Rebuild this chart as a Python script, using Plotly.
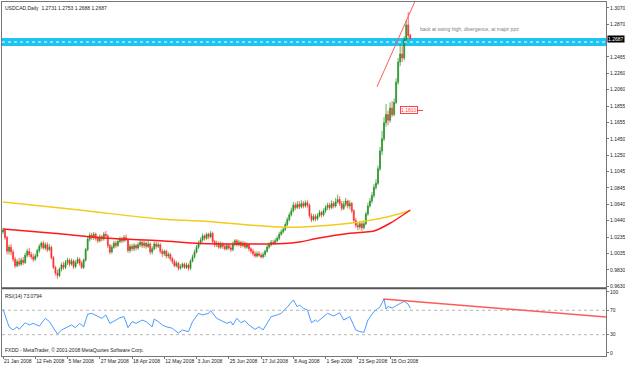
import plotly.graph_objects as go

# ---------------- data ----------------
open_ = [
1.0300,1.0320,1.0230,1.0060,1.0110,1.0050,0.9960,0.9880,0.9930,0.9900,
0.9950,0.9920,1.0010,1.0060,1.0020,0.9990,0.9960,1.0000,1.0070,1.0120,
1.0160,1.0100,1.0140,1.0080,1.0110,0.9980,0.9860,0.9790,0.9760,0.9840,
0.9890,0.9860,0.9920,0.9950,0.9900,0.9940,0.9870,0.9920,0.9960,0.9910,
0.9860,0.9950,1.0080,1.0210,1.0260,1.0230,1.0270,1.0220,1.0190,1.0240,
1.0210,1.0270,1.0250,1.0130,1.0050,1.0110,1.0160,1.0130,1.0180,1.0210,
1.0190,1.0230,1.0200,1.0070,1.0120,1.0090,1.0130,1.0100,1.0140,1.0170,
1.0130,1.0160,1.0120,1.0150,1.0050,1.0090,1.0150,1.0120,1.0140,1.0060,
1.0030,1.0060,1.0000,1.0020,0.9970,0.9930,0.9880,0.9910,0.9850,0.9870,
0.9900,0.9860,0.9890,0.9850,0.9940,0.9990,1.0050,1.0110,1.0160,1.0200,
1.0250,1.0220,1.0270,1.0240,1.0280,1.0180,1.0140,1.0160,1.0110,1.0150,
1.0120,1.0090,1.0130,1.0100,1.0080,1.0150,1.0190,1.0140,1.0170,1.0130,
1.0160,1.0110,1.0140,1.0090,1.0060,1.0030,1.0000,1.0030,1.0010,0.9990,
1.0020,1.0060,1.0110,1.0140,1.0170,1.0160,1.0190,1.0220,1.0270,1.0300,
1.0330,1.0390,1.0450,1.0510,1.0560,1.0630,1.0600,1.0640,1.0610,1.0650,
1.0620,1.0660,1.0630,1.0500,1.0450,1.0490,1.0460,1.0500,1.0540,1.0510,
1.0560,1.0600,1.0630,1.0600,1.0650,1.0620,1.0670,1.0700,1.0650,1.0590,
1.0640,1.0680,1.0620,1.0650,1.0560,1.0440,1.0380,1.0360,1.0400,1.0350,
1.0400,1.0520,1.0620,1.0680,1.0750,1.0850,1.0900,1.1080,1.1300,1.1450,
1.1650,1.1750,1.1680,1.1830,1.1750,1.1900,1.2150,1.2400,1.2500,1.2450,
1.2680,1.2860,1.2731]

high = [
1.0350,1.0340,1.0250,1.0140,1.0150,1.0080,0.9990,0.9960,0.9980,0.9980,
0.9990,1.0040,1.0090,1.0100,1.0050,1.0030,1.0030,1.0090,1.0150,1.0180,
1.0190,1.0170,1.0170,1.0150,1.0130,1.0000,0.9880,0.9830,0.9860,0.9920,
0.9930,0.9950,0.9980,0.9970,0.9970,0.9960,0.9950,0.9990,0.9980,0.9940,
0.9970,1.0100,1.0240,1.0290,1.0290,1.0300,1.0290,1.0250,1.0270,1.0260,
1.0300,1.0310,1.0270,1.0150,1.0140,1.0190,1.0190,1.0210,1.0240,1.0240,
1.0260,1.0270,1.0220,1.0150,1.0150,1.0160,1.0150,1.0170,1.0200,1.0200,
1.0190,1.0180,1.0190,1.0170,1.0120,1.0180,1.0180,1.0170,1.0160,1.0090,
1.0080,1.0080,1.0050,1.0040,0.9990,0.9960,0.9940,0.9930,0.9900,0.9920,
0.9920,0.9920,0.9910,0.9960,1.0020,1.0080,1.0140,1.0190,1.0230,1.0280,
1.0270,1.0290,1.0290,1.0310,1.0300,1.0200,1.0190,1.0180,1.0180,1.0170,
1.0150,1.0160,1.0150,1.0130,1.0180,1.0210,1.0210,1.0200,1.0190,1.0190,
1.0180,1.0170,1.0160,1.0110,1.0090,1.0060,1.0060,1.0060,1.0040,1.0050,
1.0080,1.0140,1.0170,1.0200,1.0200,1.0220,1.0250,1.0300,1.0330,1.0360,
1.0420,1.0480,1.0540,1.0600,1.0670,1.0660,1.0680,1.0680,1.0690,1.0680,
1.0690,1.0690,1.0650,1.0530,1.0520,1.0520,1.0530,1.0570,1.0560,1.0590,
1.0630,1.0660,1.0660,1.0690,1.0680,1.0720,1.0760,1.0740,1.0680,1.0680,
1.0720,1.0700,1.0690,1.0670,1.0580,1.0470,1.0420,1.0430,1.0420,1.0440,
1.0550,1.0660,1.0720,1.0790,1.0890,1.0950,1.1120,1.1350,1.1550,1.1720,
1.1880,1.1800,1.1900,1.1920,1.1950,1.2200,1.2450,1.2620,1.2600,1.2720,
1.2920,1.3020,1.2753]

low = [
1.0270,1.0200,1.0020,1.0020,1.0010,0.9930,0.9850,0.9860,0.9870,0.9880,
0.9890,0.9900,0.9980,0.9990,0.9960,0.9930,0.9940,0.9980,1.0040,1.0090,
1.0080,1.0070,1.0050,1.0060,0.9960,0.9840,0.9760,0.9720,0.9740,0.9810,
0.9830,0.9840,0.9890,0.9870,0.9880,0.9840,0.9850,0.9900,0.9880,0.9840,
0.9840,0.9930,1.0060,1.0180,1.0200,1.0200,1.0190,1.0160,1.0170,1.0180,
1.0190,1.0220,1.0100,1.0020,1.0030,1.0090,1.0100,1.0110,1.0160,1.0160,
1.0170,1.0180,1.0040,1.0040,1.0060,1.0060,1.0070,1.0080,1.0110,1.0100,
1.0100,1.0090,1.0100,1.0020,1.0020,1.0070,1.0090,1.0100,1.0030,0.9990,
1.0000,0.9970,0.9970,0.9940,0.9900,0.9860,0.9860,0.9820,0.9830,0.9850,
0.9840,0.9840,0.9820,0.9830,0.9920,0.9970,1.0030,1.0090,1.0140,1.0170,
1.0190,1.0200,1.0210,1.0220,1.0150,1.0110,1.0110,1.0090,1.0090,1.0090,
1.0070,1.0070,1.0080,1.0050,1.0060,1.0120,1.0120,1.0120,1.0100,1.0110,
1.0090,1.0090,1.0060,1.0030,1.0000,0.9980,0.9980,0.9990,0.9970,0.9970,
0.9990,1.0040,1.0090,1.0120,1.0140,1.0140,1.0170,1.0200,1.0250,1.0280,
1.0310,1.0370,1.0430,1.0490,1.0540,1.0570,1.0580,1.0580,1.0590,1.0590,
1.0600,1.0600,1.0470,1.0420,1.0430,1.0430,1.0440,1.0480,1.0480,1.0490,
1.0530,1.0570,1.0570,1.0580,1.0590,1.0600,1.0650,1.0620,1.0560,1.0570,
1.0610,1.0590,1.0580,1.0530,1.0410,1.0350,1.0320,1.0330,1.0310,1.0330,
1.0380,1.0500,1.0600,1.0650,1.0720,1.0820,1.0880,1.1050,1.1250,1.1420,
1.1600,1.1620,1.1650,1.1720,1.1730,1.1880,1.2120,1.2350,1.2400,1.2420,
1.2650,1.2700,1.2688]

close = [
1.0320,1.0230,1.0060,1.0110,1.0050,0.9960,0.9880,0.9930,0.9900,0.9950,
0.9920,1.0010,1.0060,1.0020,0.9990,0.9960,1.0000,1.0070,1.0120,1.0160,
1.0100,1.0140,1.0080,1.0110,0.9980,0.9860,0.9790,0.9760,0.9840,0.9890,
0.9860,0.9920,0.9950,0.9900,0.9940,0.9870,0.9920,0.9960,0.9910,0.9860,
0.9950,1.0080,1.0210,1.0260,1.0230,1.0270,1.0220,1.0190,1.0240,1.0210,
1.0270,1.0250,1.0130,1.0050,1.0110,1.0160,1.0130,1.0180,1.0210,1.0190,
1.0230,1.0200,1.0070,1.0120,1.0090,1.0130,1.0100,1.0140,1.0170,1.0130,
1.0160,1.0120,1.0150,1.0050,1.0090,1.0150,1.0120,1.0140,1.0060,1.0030,
1.0060,1.0000,1.0020,0.9970,0.9930,0.9880,0.9910,0.9850,0.9870,0.9900,
0.9860,0.9890,0.9850,0.9940,0.9990,1.0050,1.0110,1.0160,1.0200,1.0250,
1.0220,1.0270,1.0240,1.0280,1.0180,1.0140,1.0160,1.0110,1.0150,1.0120,
1.0090,1.0130,1.0100,1.0080,1.0150,1.0190,1.0140,1.0170,1.0130,1.0160,
1.0110,1.0140,1.0090,1.0060,1.0030,1.0000,1.0030,1.0010,0.9990,1.0020,
1.0060,1.0110,1.0140,1.0170,1.0160,1.0190,1.0220,1.0270,1.0300,1.0330,
1.0390,1.0450,1.0510,1.0560,1.0630,1.0600,1.0640,1.0610,1.0650,1.0620,
1.0660,1.0630,1.0500,1.0450,1.0490,1.0460,1.0500,1.0540,1.0510,1.0560,
1.0600,1.0630,1.0600,1.0650,1.0620,1.0670,1.0700,1.0650,1.0590,1.0640,
1.0680,1.0620,1.0650,1.0560,1.0440,1.0380,1.0360,1.0400,1.0350,1.0400,
1.0520,1.0620,1.0680,1.0750,1.0850,1.0900,1.1080,1.1300,1.1450,1.1650,
1.1750,1.1680,1.1830,1.1750,1.1900,1.2150,1.2400,1.2500,1.2450,1.2680,
1.2860,1.2730,1.2687]

bar_index = list(range(len(close)))

# moving averages read at a few bars (index, price)
ma_yellow_idx = [0, 38, 78, 98, 122, 139, 156, 172, 185, 193, 202]
ma_yellow_val = [1.0669, 1.0570, 1.0459, 1.0434, 1.0385, 1.0356, 1.0372, 1.0406, 1.0455, 1.0500, 1.0560]
ma_red_idx = [0, 25, 52, 78, 98, 122, 139, 147, 156, 172, 180, 184, 192, 202]
ma_red_val = [1.0335, 1.0282, 1.0220, 1.0190, 1.0156, 1.0150, 1.0155, 1.0174, 1.0220, 1.0282, 1.0298, 1.0310, 1.0406, 1.0570]

# RSI(14) (index, value)
rsi_idx = [0, 2, 3, 5, 7, 8, 11, 13, 15, 18, 21, 23, 26, 27, 29, 32, 34, 36, 38, 40,
           42, 44, 47, 49, 51, 53, 56, 58, 60, 62, 64, 66, 69, 71, 74, 75, 77, 79, 81, 84,
           87, 89, 92, 94, 97, 99, 102, 103, 106, 108, 111, 113, 114, 116, 118, 120, 122, 125, 127, 129,
           131, 133, 136, 138, 141, 144, 146, 147, 149, 151, 153, 155, 156, 159, 161, 164, 167, 169, 172, 175,
           177, 179, 181, 184, 187, 189, 190, 191, 193, 195, 198, 199, 200, 201, 202]
rsi_val = [71.6, 50, 43, 37.7, 43, 38.7, 49.7, 45.9, 48.6, 44, 56.8, 51.4, 35, 31, 37.7, 43, 45.9, 41.5, 48.6, 43,
           63.4, 65, 59.6, 56.8, 62.3, 48.6, 54, 57.9, 59.6, 41.5, 51.4, 48.6, 54, 51.4, 43, 55.7, 51.4, 45.9, 43, 40.5,
           32.4, 37.7, 35, 51.4, 65, 62.3, 65, 69.4, 56.8, 54, 48.6, 51.4, 45.9, 56.8, 49.7, 53, 45.9, 38.7, 43, 37.7,
           48.6, 59.6, 62.3, 65, 75.4, 86.9, 75.4, 78.7, 73.2, 70.5, 49.7, 54, 51.4, 59.6, 65, 60.7, 66, 54, 59.6, 37.7,
           35, 33.9, 54, 67.8, 75.4, 88.5, 72, 76.3, 73.5, 77.6, 83, 84.7, 82, 80, 73.1]

# trend lines drawn on the chart (index, value)
price_trend_idx = [185.5, 204.5]
price_trend_val = [1.2095, 1.3160]
rsi_trend_idx = [188.6, 300]
rsi_trend_val = [88.5, 58.8]

date_ticks_idx = [0, 16, 32, 48, 64, 80, 96, 112, 128, 144, 160, 176, 192]
date_ticks_text = ["21 Jan 2008", "12 Feb 2008", "5 Mar 2008", "27 Mar 2008", "18 Apr 2008",
                   "12 May 2008", "3 Jun 2008", "25 Jun 2008", "17 Jul 2008", "8 Aug 2008",
                   "1 Sep 2008", "23 Sep 2008", "15 Oct 2008"]
price_ticks = [1.3070, 1.2870, 1.2465, 1.2260, 1.2060, 1.1855, 1.1655, 1.1450, 1.1250,
               1.1045, 1.0845, 1.0640, 1.0440, 1.0235, 1.0035, 0.9830, 0.9630]
rsi_ticks = [0, 30, 70, 100]

zone_low, zone_high, zone_mid = 1.2599, 1.2698, 1.2648
last_price = 1.2687
label_price = 1.1801

assert len(open_) == len(high) == len(low) == len(close) == 203

# ---------------- figure ----------------
FONT = "Liberation Sans"
AX = "#777777"
fig = go.Figure()

fig.add_trace(go.Candlestick(
    x=bar_index, open=open_, high=high, low=low, close=close,
    xaxis="x2", yaxis="y",
    increasing=dict(line=dict(color="#1f8f1f", width=0.7), fillcolor="#1f8f1f"),
    decreasing=dict(line=dict(color="#ff2a2a", width=0.7), fillcolor="#ff2a2a"),
    whiskerwidth=0, hoverinfo="skip"))

fig.add_trace(go.Scatter(x=ma_yellow_idx, y=ma_yellow_val, mode="lines", xaxis="x2", yaxis="y",
                         line=dict(color="#f2cc1a", width=1.5, shape="spline"), hoverinfo="skip"))
fig.add_trace(go.Scatter(x=ma_red_idx, y=ma_red_val, mode="lines", xaxis="x2", yaxis="y",
                         line=dict(color="#ff1a1a", width=1.5, shape="spline"), hoverinfo="skip"))
fig.add_trace(go.Scatter(x=price_trend_idx, y=price_trend_val, mode="lines", xaxis="x2", yaxis="y",
                         line=dict(color="#ff5a5a", width=1), hoverinfo="skip"))

fig.add_trace(go.Scatter(x=rsi_idx, y=rsi_val, mode="lines", xaxis="x", yaxis="y2",
                         line=dict(color="#4a9cff", width=1), hoverinfo="skip"))
fig.add_trace(go.Scatter(x=rsi_trend_idx, y=rsi_trend_val, mode="lines", xaxis="x", yaxis="y2",
                         line=dict(color="#ff5a5a", width=1.5), hoverinfo="skip"))

shapes = [
    dict(type="rect", xref="paper", yref="y", x0=0, x1=1, y0=zone_low, y1=zone_high,
         fillcolor="#1ec3f2", line=dict(width=0), layer="below"),
    dict(type="line", xref="paper", yref="y", x0=0, x1=1, y0=zone_mid, y1=zone_mid,
         line=dict(color="white", width=1, dash="dot")),
    dict(type="line", xref="paper", yref="y2", x0=0, x1=1, y0=70, y1=70,
         line=dict(color="#b5b5b5", width=1, dash="dot"), layer="below"),
    dict(type="line", xref="paper", yref="y2", x0=0, x1=1, y0=30, y1=30,
         line=dict(color="#b5b5b5", width=1, dash="dot"), layer="below"),
    dict(type="line", xref="x2", yref="y", x0=205, x1=208.3, y0=label_price, y1=label_price,
         line=dict(color="#ff4040", width=1)),
    dict(type="line", xref="paper", yref="paper", x0=0, x1=1, y0=0.1914, y1=0.1914,
         line=dict(color="#555555", width=2)),
]

annotations = [
    dict(xref="paper", yref="paper", x=0, y=1, xanchor="left", yanchor="top", xshift=1, yshift=-1,
         text="USDCAD,Daily  1.2731 1.2753 1.2688 1.2687", showarrow=False,
         font=dict(family=FONT, size=5, color="#222222")),
    dict(xref="paper", yref="paper", x=0, y=0.1893, xanchor="left", yanchor="top", xshift=1, yshift=-2,
         text="RSI(14) 73.0794", showarrow=False, font=dict(family=FONT, size=5, color="#222222")),
    dict(xref="paper", yref="paper", x=0, y=0, xanchor="left", yanchor="bottom", xshift=1, yshift=1,
         text="FXDD - MetaTrader, © 2001-2008 MetaQuotes Software Corp.", showarrow=False,
         font=dict(family=FONT, size=5, color="#222222")),
    dict(xref="x2", yref="y", x=206, y=1.2809, xanchor="left", yanchor="middle",
         text="back at swing high, divergence, at major ppz", showarrow=False,
         font=dict(family=FONT, size=5, color="#808080")),
    dict(xref="paper", yref="y", x=1, y=last_price, xanchor="left", yanchor="middle", xshift=1,
         text="1.2687", showarrow=False, bgcolor="black", borderpad=0,
         font=dict(family=FONT, size=5, color="white")),
    dict(xref="x2", yref="y", x=201.3, y=label_price, xanchor="center", yanchor="middle",
         text="1.1810", showarrow=False, bgcolor="white", bordercolor="#ff4040", borderwidth=1,
         borderpad=0, font=dict(family=FONT, size=5, color="#ff4040")),
]

fig.update_layout(
    width=625, height=366,
    margin=dict(l=2, r=19, t=2, b=10, autoexpand=False),
    paper_bgcolor="white", plot_bgcolor="white",
    showlegend=False,
    font=dict(family=FONT, size=5, color="#222222"),
    xaxis=dict(domain=[0, 1], anchor="y2", range=[-0.5, 299.1], automargin=False,
               tickmode="array", tickvals=date_ticks_idx, ticktext=date_ticks_text, tickangle=0,
               ticks="outside", ticklen=2, tickcolor=AX, ticklabelposition="outside right",
               showgrid=False, zeroline=False, showline=True, mirror=True, linecolor=AX,
               rangeslider=dict(visible=False), tickfont=dict(family=FONT, size=5)),
    xaxis2=dict(domain=[0, 1], anchor="y", matches="x", showticklabels=False, ticks="",
                showgrid=False, zeroline=False, showline=True, mirror=True, linecolor=AX,
                rangeslider=dict(visible=False)),
    yaxis=dict(domain=[0.1935, 1], anchor="x2", range=[0.96114, 1.31431], side="right",
               automargin=False,
               tickmode="array", tickvals=price_ticks, ticktext=[f"{v:.4f}" for v in price_ticks],
               ticks="outside", ticklen=2, tickcolor=AX, showgrid=False, zeroline=False,
               showline=True, mirror=True, linecolor=AX, tickfont=dict(family=FONT, size=5)),
    yaxis2=dict(domain=[0, 0.1893], anchor="x", range=[-4.92, 104.9], side="right",
                automargin=False,
                tickmode="array", tickvals=rsi_ticks, ticktext=[str(v) for v in rsi_ticks],
                ticks="outside", ticklen=2, tickcolor=AX, showgrid=False, zeroline=False,
                showline=True, mirror=True, linecolor=AX, tickfont=dict(family=FONT, size=5)),
    shapes=shapes, annotations=annotations,
)

fig.write_html("out.html")
